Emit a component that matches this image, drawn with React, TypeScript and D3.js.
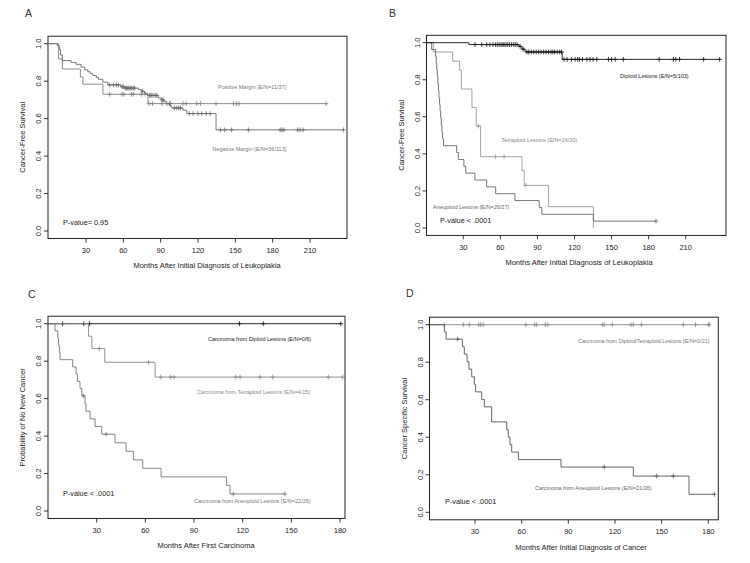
import * as d3 from "d3";

// ---- Panel A: margin status ----
const aPosTimes = [8, 11, 25.5, 27.5, 43.6, 79.8];
const aPosSurv = [0.919, 0.865, 0.822, 0.784, 0.73, 0.68];
const aPosCensor = [49, 59, 60.5, 66.5, 68, 74.5, 77.5, 80.5, 83.5, 91, 95, 98, 108, 110.5, 119, 122, 134.5, 148.5, 151, 153, 223];

const aNegTimes = [7, 8.5, 9.5, 11, 18, 22, 26, 29, 31.5, 33.5, 35.5, 38.3, 40, 43.5, 47.5, 58, 61, 72, 74.5, 77, 79.5, 88, 90.5, 92.5, 94.5, 97.5, 99, 108, 111, 134.5];
const aNegSurv = [0.99, 0.97, 0.94, 0.91, 0.9, 0.89, 0.875, 0.86, 0.85, 0.84, 0.83, 0.82, 0.81, 0.795, 0.78, 0.77, 0.763, 0.755, 0.746, 0.735, 0.724, 0.71, 0.7, 0.692, 0.68, 0.667, 0.657, 0.645, 0.627, 0.54];
const aNegCensor = [49, 52, 54.5, 56, 59, 60, 61.5, 62.5, 63.5, 64.5, 65.5, 66.5, 68, 69, 75.5, 81, 82, 83, 84.5, 86, 87, 91, 92, 97, 101, 103, 104.5, 106, 113, 116, 120, 123, 126.5, 129.7, 138, 141.5, 147, 160.5, 186, 187.5, 189, 200, 202, 204.5, 237];

// ---- Panel B: ploidy of leukoplakia ----
const bDipTimes = [34.5, 75, 77.5, 80, 110];
const bDipSurv = [0.99, 0.98, 0.965, 0.95, 0.91];
const bDipCensor = [39.5, 45, 49, 51.5, 54, 56, 57.5, 59, 60.5, 62, 63, 64.5, 66, 67.5, 69, 70.5, 72, 73.5, 76, 78.5, 81.5, 83, 85, 87, 89, 91, 93, 95, 97, 99, 101, 102.5, 104, 106, 108, 109.5, 111.5, 114, 117.5, 120.5, 122.5, 124, 126.5, 130, 132.5, 135, 138, 147.5, 150, 153, 159.5, 188.5, 200, 202, 205, 224.5, 237.5];

const bTetTimes = [5.7, 21.4, 27, 28.5, 37, 40.5, 44, 77.5, 79.3, 99, 135.3];
const bTetSurv = [0.95, 0.9, 0.85, 0.75, 0.65, 0.55, 0.385, 0.31, 0.23, 0.115, 0];
const bTetCensor = [42.3, 56, 63, 80.5];

const bAneTimes = [4.4, 7.6, 8.1, 8.5, 9, 9.4, 9.9, 10.3, 10.8, 11.2, 11.7, 12.2, 12.7, 13.2, 14, 24.6, 26, 30.5, 32, 39.4, 48.9, 56.2, 71.8, 91.5, 93.5, 135.3];
const bAneSurv = [0.963, 0.926, 0.889, 0.852, 0.815, 0.778, 0.741, 0.704, 0.667, 0.63, 0.593, 0.556, 0.519, 0.481, 0.444, 0.407, 0.37, 0.333, 0.296, 0.259, 0.222, 0.185, 0.148, 0.111, 0.074, 0.037];
const bAneCensor = [186];

// ---- Panel C: new carcinoma ----
const cDipTimes: number[] = [];
const cDipSurv: number[] = [];
const cDipCensor = [9, 22, 25.5, 118, 132.7, 180.5];

const cTetTimes = [25, 27, 35, 66];
const cTetSurv = [0.933, 0.867, 0.794, 0.715];
const cTetCensor = [31.6, 62, 69.5, 75.6, 77.7, 115.7, 118.4, 130.7, 138.5, 172.8, 181.7];

const cAneTimes = [4.3, 6, 6.5, 7, 7.4, 15.2, 17.3, 18.1, 19.7, 20.8, 22.8, 23.4, 25.9, 29, 33.1, 41.3, 48.1, 52.6, 58.4, 69.7, 110.1, 112.2];
const cAneSurv = [0.962, 0.923, 0.885, 0.846, 0.808, 0.769, 0.731, 0.692, 0.654, 0.615, 0.574, 0.533, 0.492, 0.451, 0.41, 0.364, 0.319, 0.273, 0.228, 0.182, 0.137, 0.091];
const cAneCensor = [21.8, 35.8, 114.2, 146];

// ---- Panel D: cancer specific survival ----
const dDipTimes: number[] = [];
const dDipSurv: number[] = [];
const dDipCensor = [10.2, 22.5, 26.3, 32.4, 33.6, 35.2, 62.7, 68.3, 69.6, 75.2, 76.8, 111.9, 113.1, 118.3, 130.3, 131.8, 137.1, 163.9, 171.8, 180, 180.6];

const dAneTimes = [10.3, 11.4, 21.9, 23.1, 24.9, 26.1, 27.9, 29.6, 30.4, 34.3, 36, 40.7, 50.4, 51.4, 52.5, 53.6, 57.9, 85.3, 131.8, 167.6];
const dAneSurv = [0.962, 0.923, 0.883, 0.843, 0.803, 0.763, 0.722, 0.682, 0.642, 0.602, 0.562, 0.482, 0.441, 0.401, 0.361, 0.321, 0.281, 0.241, 0.193, 0.096];
const dAneCensor = [18.9, 113.1, 146.8, 157.5, 183.9];

const yTicks = [0, 0.2, 0.4, 0.6, 0.8, 1.0];
const xTicksLong = [30, 60, 90, 120, 150, 180, 210];
const xTicksShort = [30, 60, 90, 120, 150, 180];

const FONT = "'Liberation Sans', Arial, Helvetica, sans-serif";

type Curve = { times: number[]; surv: number[]; censor: number[]; color: string };
type Label = { text: string; x: number; y: number; color: string; size?: number };

type PanelSpec = {
  letter: string;
  letterPos: [number, number];
  xTicks: number[];
  xPx: [number, number]; // px of first and last tick
  yPx: [number, number]; // px of 0 and 1
  boxL: number;
  boxR: number;
  xTitle: string;
  xTitleX: number;
  yTitle: string;
  curves: Curve[];
  labels: Label[];
};

function survAt(c: Curve, t: number) {
  const i = d3.bisectRight(c.times, t);
  return i === 0 ? 1 : c.surv[i - 1];
}

function kmPoints(c: Curve): [number, number][] {
  const pts: [number, number][] = [[0, 1]];
  c.times.forEach((t, i) => pts.push([t, c.surv[i]]));
  const end = Math.max(d3.max(c.times) ?? 0, d3.max(c.censor) ?? 0);
  pts.push([end, c.surv.length ? c.surv[c.surv.length - 1] : 1]);
  return pts;
}

function Panel({ p }: { p: PanelSpec }) {
  const x = d3
    .scaleLinear()
    .domain([p.xTicks[0], p.xTicks[p.xTicks.length - 1]])
    .range(p.xPx);
  const y = d3.scaleLinear().domain([0, 1]).range(p.yPx);
  const h = p.yPx[0] - p.yPx[1];
  const boxT = p.yPx[1] - 0.04 * h;
  const boxB = p.yPx[0] + 0.04 * h;
  const line = d3
    .line<[number, number]>()
    .x((d) => x(d[0]))
    .y((d) => y(d[1]))
    .curve(d3.curveStepAfter);
  const midY = (boxT + boxB) / 2;

  return (
    <g fontFamily={FONT}>
      <text x={p.letterPos[0]} y={p.letterPos[1]} fontSize={10.5} fill="#333">
        {p.letter}
      </text>
      {p.curves.map((c, i) => (
        <g key={i}>
          <path d={line(kmPoints(c)) ?? ""} fill="none" stroke={c.color} strokeWidth={0.9} />
          {c.censor.map((t, j) => {
            const cx = x(t);
            const cy = y(survAt(c, t));
            return (
              <path
                key={j}
                d={`M${cx - 2.2},${cy}H${cx + 2.2}M${cx},${cy - 2.4}V${cy + 2.4}`}
                stroke={c.color}
                strokeWidth={0.8}
              />
            );
          })}
        </g>
      ))}
      <rect x={p.boxL} y={boxT} width={p.boxR - p.boxL} height={boxB - boxT} fill="none" stroke="#222" strokeWidth={1} />
      {yTicks.map((t) => (
        <g key={t}>
          <line x1={p.boxL} x2={p.boxL - 4} y1={y(t)} y2={y(t)} stroke="#222" strokeWidth={0.9} />
          <text
            transform={`translate(${p.boxL - 7},${y(t)}) rotate(-90)`}
            textAnchor="middle"
            fontSize={7.5}
            fill="#222"
          >
            {t.toFixed(1)}
          </text>
        </g>
      ))}
      {p.xTicks.map((t) => (
        <g key={t}>
          <line x1={x(t)} x2={x(t)} y1={boxB} y2={boxB + 4} stroke="#222" strokeWidth={0.9} />
          <text x={x(t)} y={boxB + 14.5} textAnchor="middle" fontSize={7.5} fill="#222">
            {t}
          </text>
        </g>
      ))}
      <text x={p.xTitleX} y={boxB + 30} textAnchor="middle" fontSize={7.5} fill="#222">
        {p.xTitle}
      </text>
      <text
        transform={`translate(${p.boxL - 23},${midY}) rotate(-90)`}
        textAnchor="middle"
        fontSize={7.5}
        fill="#222"
      >
        {p.yTitle}
      </text>
      {p.labels.map((l, i) => (
        <text key={i} x={l.x} y={l.y} fontSize={l.size ?? 5.5} fill={l.color}>
          {l.text}
        </text>
      ))}
    </g>
  );
}

const panels: PanelSpec[] = [
  {
    letter: "A",
    letterPos: [25, 17],
    xTicks: xTicksLong,
    xPx: [86, 310],
    yPx: [231, 43.7],
    boxL: 48,
    boxR: 347,
    xTitle: "Months After Initial Diagnosis of Leukoplakia",
    xTitleX: 207,
    yTitle: "Cancer-Free Survival",
    curves: [
      { times: aPosTimes, surv: aPosSurv, censor: aPosCensor, color: "#808080" },
      { times: aNegTimes, surv: aNegSurv, censor: aNegCensor, color: "#6a6a6a" },
    ],
    labels: [
      { text: "Positive Margin (E/N=11/37)", x: 218, y: 89, color: "#777" },
      { text: "Negative Margin (E/N=36/113)", x: 212.5, y: 150.5, color: "#777" },
      { text: "P-value= 0.95", x: 63, y: 224.5, color: "#222", size: 7.3 },
    ],
  },
  {
    letter: "B",
    letterPos: [389, 17],
    xTicks: xTicksLong,
    xPx: [463.3, 685.7],
    yPx: [228, 42.7],
    boxL: 426.5,
    boxR: 726,
    xTitle: "Months After Initial Diagnosis of Leukoplakia",
    xTitleX: 579,
    yTitle: "Cancer-Free Survival",
    curves: [
      { times: bTetTimes, surv: bTetSurv, censor: bTetCensor, color: "#9a9a9a" },
      { times: bAneTimes, surv: bAneSurv, censor: bAneCensor, color: "#666" },
      { times: bDipTimes, surv: bDipSurv, censor: bDipCensor, color: "#111" },
    ],
    labels: [
      { text: "Diploid Lesions (E/N=5/103)", x: 620, y: 77.5, color: "#222" },
      { text: "Tetraploid Lesions (E/N=16/20)", x: 501.5, y: 142, color: "#888" },
      { text: "Aneuploid Lesions (E/N=26/27)", x: 433, y: 209, color: "#666" },
      { text: "P-value < .0001", x: 440, y: 223, color: "#222", size: 7.3 },
    ],
  },
  {
    letter: "C",
    letterPos: [28, 298],
    xTicks: xTicksShort,
    xPx: [96.7, 340],
    yPx: [511, 323.7],
    boxL: 48,
    boxR: 345,
    xTitle: "Months After First Carcinoma",
    xTitleX: 206,
    yTitle: "Probability of No New Cancer",
    curves: [
      { times: cDipTimes, surv: cDipSurv, censor: cDipCensor, color: "#111" },
      { times: cTetTimes, surv: cTetSurv, censor: cTetCensor, color: "#888" },
      { times: cAneTimes, surv: cAneSurv, censor: cAneCensor, color: "#777" },
    ],
    labels: [
      { text: "Carcinoma from Diploid Lesions (E/N=0/6)", x: 208, y: 340.5, color: "#222" },
      { text: "Carcinoma from Tetraploid Lesions (E/N=4/15)", x: 197, y: 393.5, color: "#888" },
      { text: "Carcinoma from Aneuploid Lesions (E/N=22/26)", x: 194, y: 503, color: "#777" },
      { text: "P-value < .0001", x: 63, y: 496, color: "#222", size: 7.3 },
    ],
  },
  {
    letter: "D",
    letterPos: [406, 297],
    xTicks: xTicksShort,
    xPx: [475, 708.3],
    yPx: [512.3, 324.7],
    boxL: 429.5,
    boxR: 718.3,
    xTitle: "Months After Initial Diagnosis of Cancer",
    xTitleX: 581,
    yTitle: "Cancer Specific Survival",
    curves: [
      { times: dDipTimes, surv: dDipSurv, censor: dDipCensor, color: "#888" },
      { times: dAneTimes, surv: dAneSurv, censor: dAneCensor, color: "#555" },
    ],
    labels: [
      { text: "Carcinoma from Diploid/Tetraploid Lesions (E/N=0/21)", x: 578, y: 342.5, color: "#777" },
      { text: "Carcinoma from Aneuploid Lesions (E/N=21/26)", x: 535, y: 489.5, color: "#666" },
      { text: "P-value < .0001", x: 445, y: 503.5, color: "#222", size: 7.3 },
    ],
  },
];

export default function App() {
  return (
    <svg
      width={750}
      height={563}
      style={{ position: "absolute", left: 0, top: 0, background: "#fff" }}
    >
      <rect width={750} height={563} fill="#fff" />
      {panels.map((p) => (
        <Panel key={p.letter} p={p} />
      ))}
    </svg>
  );
}
